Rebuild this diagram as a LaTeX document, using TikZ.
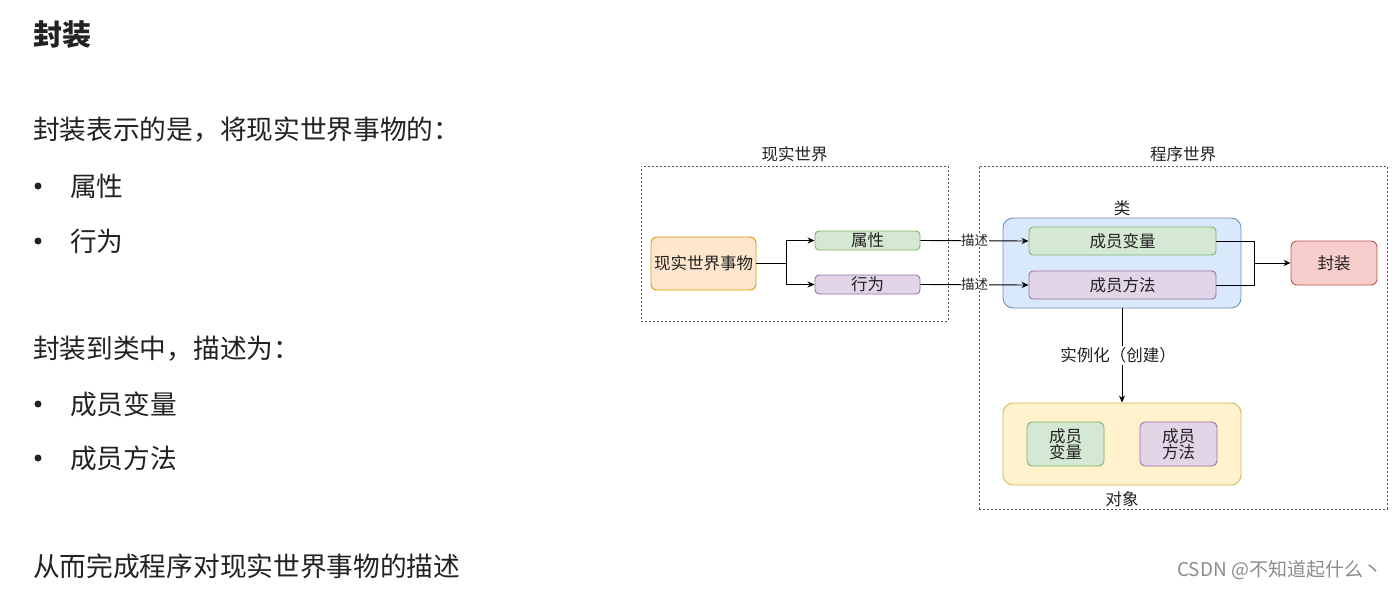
\documentclass[tikz,border=0pt]{standalone}
\usepackage{fontspec}
\setmainfont{Noto Sans CJK SC}
\usetikzlibrary{arrows.meta}
\definecolor{orF}{HTML}{FFE6CC}\definecolor{orD}{HTML}{D79B00}
\definecolor{grF}{HTML}{D5E8D4}\definecolor{grD}{HTML}{82B366}
\definecolor{puF}{HTML}{E1D5E7}\definecolor{puD}{HTML}{9673A6}
\definecolor{blF}{HTML}{DAE8FC}\definecolor{blD}{HTML}{6C8EBF}
\definecolor{reF}{HTML}{F8CECC}\definecolor{reD}{HTML}{B85450}
\definecolor{yeF}{HTML}{FFF2CC}\definecolor{yeD}{HTML}{D6B656}
\definecolor{txt}{HTML}{222222}
\definecolor{frame}{HTML}{555555}
\tikzset{
  box/.style={draw, line width=0.9pt, rounded corners=4pt, inner sep=0pt, align=center, font=\fontsize{16.5}{19}\selectfont, text=txt},
  orbox/.style={box, fill=orF, draw=orD},
  grbox/.style={box, fill=grF, draw=grD},
  pubox/.style={box, fill=puF, draw=puD},
  blbox/.style={box, fill=blF, draw=blD, rounded corners=10pt},
  rebox/.style={box, fill=reF, draw=reD, rounded corners=6pt},
  yebox/.style={box, fill=yeF, draw=yeD, rounded corners=10pt},
  world/.style={draw=frame, line width=0.9pt, dash pattern=on 2pt off 2pt, inner sep=0pt},
  lab/.style={font=\fontsize{16.5}{19}\selectfont, text=txt, inner sep=1pt},
  small/.style={font=\fontsize{13.5}{16}\selectfont, text=txt, fill=white, inner sep=0.5pt},
  arr/.style={line width=0.9pt, draw=black, -{Stealth[length=7pt,width=6pt]}},
  ln/.style={line width=0.9pt, draw=black},
  para/.style={anchor=west, inner sep=0pt, text=txt, font=\fontsize{26.7}{32}\selectfont},
  bul/.style={circle, fill=txt, inner sep=0pt, minimum size=7pt}
}
\begin{document}
\begin{tikzpicture}[x=1pt,y=-1pt]
\fill[white] (0,0) rectangle (1395,589);
\useasboundingbox (0,0) rectangle (1395,589);

% left text
\node[para, font=\fontsize{29}{34}\selectfont\bfseries] (title) at (33,35) {封装};
\node[para] (p1) at (33,130) {封装表示的是，将现实世界事物的：};
\node[bul] (b1) at (38,186) {};
\node[para] (t1) at (70,186) {属性};
\node[bul] (b2) at (38,241) {};
\node[para] (t2) at (70,241) {行为};
\node[para] (p2) at (33,349) {封装到类中，描述为：};
\node[bul] (b3) at (38,404) {};
\node[para] (t3) at (70,404) {成员变量};
\node[bul] (b4) at (38,458) {};
\node[para] (t4) at (70,458) {成员方法};
\node[para] (p3) at (33,566) {从而完成程序对现实世界事物的描述};

% frames
\node[world, minimum width=307, minimum height=155] (rw) at (794.5,243.5) {};
\node[lab, above=2pt] (rwl) at (rw.north) {现实世界};
\node[world, minimum width=408, minimum height=343] (pw) at (1183,337.5) {};
\node[lab, above=2pt] (pwl) at (pw.north) {程序世界};

% real world
\node[orbox, minimum width=105, minimum height=53, rounded corners=6pt] (thing) at (703.5,263.5) {现实世界事物};
\node[grbox, minimum width=105, minimum height=19] (attr) at (867.5,240.5) {属性};
\node[pubox, minimum width=105, minimum height=19] (beh) at (867.5,284.5) {行为};

% class
\node[blbox, minimum width=238, minimum height=90] (cls) at (1122,263) {};
\node[lab, above=1pt] (clsl) at (cls.north) {类};
\node[grbox, minimum width=187, minimum height=28] (var) at (1122.5,241) {成员变量};
\node[pubox, minimum width=187, minimum height=28] (meth) at (1122.5,285) {成员方法};
\node[rebox, minimum width=86, minimum height=44] (enc) at (1334,263) {封装};

% object
\node[yebox, minimum width=238, minimum height=82] (obj) at (1122,444) {};
\node[lab, below=5pt] (objl) at (obj.south) {对象};
\node[grbox, minimum width=77, minimum height=44, rounded corners=5pt] (ovar) at (1065.5,444) {成员\\[-3pt]变量};
\node[pubox, minimum width=77, minimum height=44, rounded corners=5pt] (ometh) at (1178.5,444) {成员\\[-3pt]方法};

% connectors
\coordinate (fork) at (786,263.5);
\draw[ln] (thing.east) -- (fork);
\draw[arr] (fork) |- (attr.west);
\draw[arr] (fork) |- (beh.west);
\draw[arr] (attr.east) -- node[small] {描述} (var.west);
\draw[arr] (beh.east) -- node[small] {描述} (meth.west);
\coordinate (join) at (1254,263);
\draw[ln] (var.east) -| (join);
\draw[ln] (meth.east) -| (join);
\draw[arr] (join) -- (enc.west);
\draw[arr] (cls.south) -- node[lab, fill=white, inner sep=2pt, xshift=-4pt] {实例化（创建）} (obj.north);

% watermark
\node[anchor=west, inner sep=0pt, text=black!45, font=\fontsize{19}{22}\selectfont] (wm) at (1177,570) {CSDN @不知道起什么丶};
\end{tikzpicture}
\end{document}
